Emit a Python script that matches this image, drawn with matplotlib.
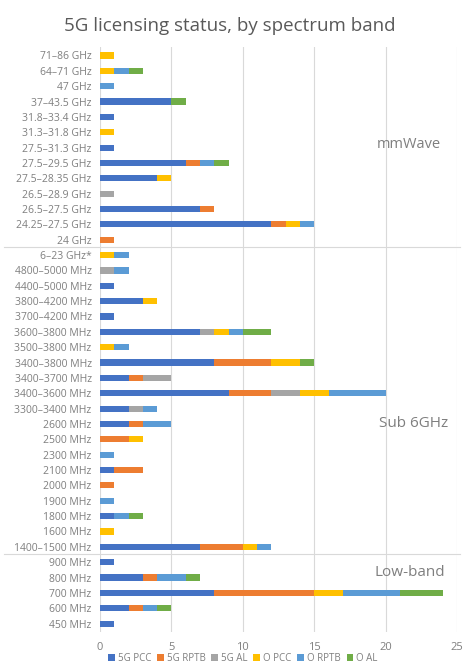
import numpy as np
import matplotlib.pyplot as plt
from matplotlib.lines import Line2D

bands = ["71–86 GHz", "64–71 GHz", "47 GHz", "37–43.5 GHz", "31.8–33.4 GHz",
         "31.3–31.8 GHz", "27.5–31.3 GHz", "27.5–29.5 GHz", "27.5–28.35 GHz",
         "26.5–28.9 GHz", "26.5–27.5 GHz", "24.25–27.5 GHz", "24 GHz",
         "6–23 GHz*", "4800–5000 MHz", "4400–5000 MHz", "3800–4200 MHz",
         "3700–4200 MHz", "3600–3800 MHz", "3500–3800 MHz", "3400–3800 MHz",
         "3400–3700 MHz", "3400–3600 MHz", "3300–3400 MHz", "2600 MHz",
         "2500 MHz", "2300 MHz", "2100 MHz", "2000 MHz", "1900 MHz", "1800 MHz",
         "1600 MHz", "1400–1500 MHz",
         "900 MHz", "800 MHz", "700 MHz", "600 MHz", "450 MHz"]

g_pcc  = [0, 0, 0, 5, 1, 0, 1, 6, 4, 0, 7, 12, 0,
          0, 0, 1, 3, 1, 7, 0, 8, 2, 9, 2, 2, 0, 0, 1, 0, 0, 1, 0, 7,
          1, 3, 8, 2, 1]
g_rptb = [0, 0, 0, 0, 0, 0, 0, 1, 0, 0, 1, 1, 1,
          0, 0, 0, 0, 0, 0, 0, 4, 1, 3, 0, 1, 2, 0, 2, 1, 0, 0, 0, 3,
          0, 1, 7, 1, 0]
g_al   = [0, 0, 0, 0, 0, 0, 0, 0, 0, 1, 0, 0, 0,
          0, 1, 0, 0, 0, 1, 0, 0, 2, 2, 1, 0, 0, 0, 0, 0, 0, 0, 0, 0,
          0, 0, 0, 0, 0]
o_pcc  = [1, 1, 0, 0, 0, 1, 0, 0, 1, 0, 0, 1, 0,
          1, 0, 0, 1, 0, 1, 1, 2, 0, 2, 0, 0, 1, 0, 0, 0, 0, 0, 1, 1,
          0, 0, 2, 0, 0]
o_rptb = [0, 1, 1, 0, 0, 0, 0, 1, 0, 0, 0, 1, 0,
          1, 1, 0, 0, 0, 1, 1, 0, 0, 4, 1, 2, 0, 1, 0, 0, 1, 1, 0, 1,
          0, 2, 4, 1, 0]
o_al   = [0, 1, 0, 1, 0, 0, 0, 1, 0, 0, 0, 0, 0,
          0, 0, 0, 0, 0, 2, 0, 1, 0, 0, 0, 0, 0, 0, 0, 0, 0, 1, 0, 0,
          0, 1, 3, 1, 0]

series = [("5G PCC", g_pcc, "#4472C4"), ("5G RPTB", g_rptb, "#ED7D31"),
          ("5G AL", g_al, "#A5A5A5"), ("O PCC", o_pcc, "#FFC000"),
          ("O RPTB", o_rptb, "#5B9BD5"), ("O AL", o_al, "#70AD47")]

plt.rcParams['font.family'] = ['Open Sans', 'DejaVu Sans']
txt = "#7f7f7f"

fig = plt.figure(figsize=(4.64, 6.72), dpi=100)
ax = fig.add_axes([0.2155, 0.0595, 0.7695, 0.8705])

y = np.arange(len(bands))
left = np.zeros(len(bands))
for name, vals, col in series:
    vals = np.array(vals, dtype=float)
    ax.barh(y, vals, left=left, height=0.4, color=col, label=name, zorder=3)
    left += vals

ax.set_ylim(len(bands) - 0.45, -0.55)
ax.set_xlim(0, 25)
ax.set_xticks([0, 5, 10, 15, 20, 25])
ax.set_yticks(y)
ax.set_yticklabels(bands)
ax.tick_params(axis='y', length=0, colors=txt, labelsize=7.5, pad=6)
ax.tick_params(axis='x', length=0, colors=txt, labelsize=8, pad=7)
ax.grid(axis='x', color="#d9d9d9", linewidth=0.8, zorder=0)
for s in ax.spines.values():
    s.set_visible(False)

# group separators
for yy in [12.5, 32.5]:
    ax.add_line(Line2D([-6.7, 25.2], [yy, yy], color="#d9d9d9", linewidth=0.8,
                       clip_on=False, zorder=1))

ax.text(23.9, 5.8, "mmWave", ha='right', va='center', fontsize=10.5, color=txt)
ax.text(24.4, 24.0, "Sub 6GHz", ha='right', va='center', fontsize=11, color=txt)
ax.text(24.2, 33.7, "Low-band", ha='right', va='center', fontsize=11, color=txt)

fig.suptitle("5G licensing status, by spectrum band", x=0.495, y=0.975,
             fontsize=13.5, color="#595959")

leg = ax.legend(loc='center', bbox_to_anchor=(0.40, -0.045), ncol=6,
                frameon=False, fontsize=7, handlelength=0.7, handleheight=0.7,
                handletextpad=0.3, columnspacing=0.6, borderpad=0)
for t in leg.get_texts():
    t.set_color(txt)

fig.savefig("out.png", dpi=100)
